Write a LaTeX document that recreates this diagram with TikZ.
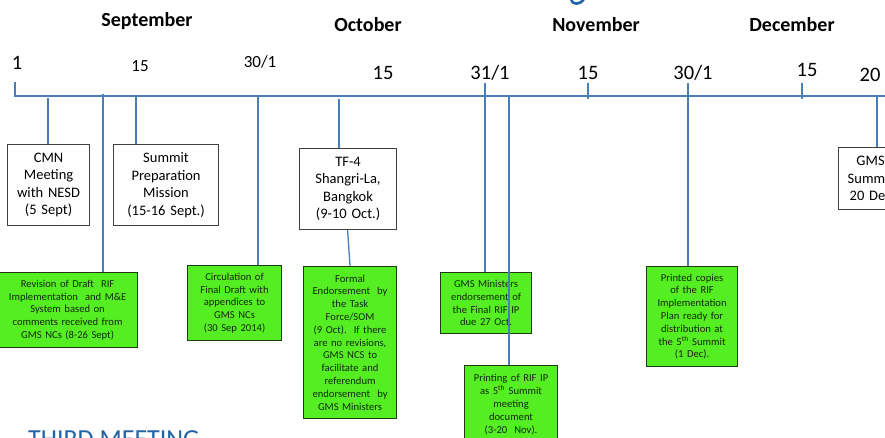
\documentclass[tikz,border=0pt]{standalone}
\usepackage{fontspec}
\setmainfont{Carlito}
\definecolor{lineblue}{HTML}{4A7EBB}
\definecolor{ggreen}{HTML}{55EE22}
\definecolor{gborder}{HTML}{1E3A12}
\definecolor{gtext}{HTML}{142808}
\definecolor{titleblue}{HTML}{1F63A8}
\begin{document}
\begin{tikzpicture}[x=1pt,y=-1pt,
  conn/.style={draw=lineblue, line width=1.3pt},
  wbox/.style={draw=black!75, line width=1.1pt, fill=white, inner sep=0pt, align=center,
    font=\fontsize{14.5}{17.5}\selectfont, anchor=north west},
  gbox/.style={draw=gborder, line width=1.1pt, fill=ggreen, inner sep=0pt, align=center,
    text=gtext, font=\fontsize{10.6}{12.8}\selectfont, anchor=north west},
  month/.style={font=\bfseries\fontsize{20}{24}\selectfont, anchor=base, inner sep=0pt},
  daylab/.style={font=\fontsize{20.5}{24}\selectfont, anchor=base, inner sep=0pt},
  daysmall/.style={font=\fontsize{17}{20}\selectfont, anchor=base, inner sep=0pt}]
\useasboundingbox (0,0) rectangle (885,438);
\clip (0,0) rectangle (885,438);
\fill[white] (0,0) rectangle (885,438);

% fragment of cut-off title
\draw[titleblue, line width=2.6pt] (571,0) .. controls (573,5) and (580,5) .. (584,-1);

% months
\node[month] (sep) at (147,27) {September};
\node[month] (oct) at (368,32) {October};
\node[month] (nov) at (596,32) {November};
\node[month] (dec) at (792,32) {December};

% day labels
\node[daylab] (d1) at (17,70) {1};
\node[daysmall] (d15s) at (140,72) {15};
\node[daysmall] (d30s) at (260,68) {30/1};
\node[daylab] (d15o) at (383,80) {15};
\node[daylab] (d31o) at (490,80) {31/1};
\node[daylab] (d15n) at (588,80) {15};
\node[daylab] (d30n) at (693,80) {30/1};
\node[daylab] (d15d) at (807,77) {15};
\node[daylab] (d20d) at (870,82) {20};

% timeline coordinates
\coordinate (tl0) at (15,96);
\coordinate (tlend) at (890,96);
\coordinate (tl0top) at (15,82);
\coordinate (k48) at (48,98);
\coordinate (k103) at (103,94);
\coordinate (k136) at (136,96);
\coordinate (k258) at (258,96);
\coordinate (k339) at (339,99);
\coordinate (k485) at (485,83);
\coordinate (k509) at (509,97);
\coordinate (k588a) at (588,83);
\coordinate (k588b) at (588,99);
\coordinate (k688) at (688,83);
\coordinate (k802a) at (802,83);
\coordinate (k802b) at (802,99);
\coordinate (k877) at (877,96);

% white boxes
\node[wbox, minimum width=82pt, minimum height=81pt, text width=80pt] (cmn) at (7,144)
  {CMN\\Meeting\\with NESD\\(5 Sept)};
\node[wbox, minimum width=105pt, minimum height=81pt, text width=103pt] (summit) at (113,144)
  {Summit\\Preparation\\Mission\\(15-16 Sept.)};
\node[wbox, minimum width=97pt, minimum height=81pt, text width=95pt] (tf) at (299,148)
  {TF-4\\Shangri-La,\\Bangkok\\(9-10 Oct.)};
\node[wbox, minimum width=64pt, minimum height=62pt, text width=62pt] (gmss) at (838,147)
  {GMS\\Summit\\20 Dec};

% green boxes
\node[gbox, minimum width=140pt, minimum height=75pt, text width=138pt] (rev) at (-3,272)
  {Revision of Draft\ \ RIF\\Implementation\ \ and M\&E\\System based on\\comments received from\\GMS NCs (8-26 Sept)};
\node[gbox, minimum width=94pt, minimum height=75pt, text width=92pt] (circ) at (187,265)
  {Circulation of\\Final Draft with\\appendices to\\GMS NCs\\(30 Sep 2014)};
\node[gbox, minimum width=93pt, minimum height=152pt, text width=91pt] (formal) at (303,266)
  {Formal\\Endorsement\ \ by\\the Task\\Force/SOM\\(9 Oct).\ \ If there\\are no revisions,\\GMS NCS to\\facilitate and\\referendum\\endorsement\ \ by\\GMS Ministers};
\node[gbox, minimum width=91pt, minimum height=61pt, text width=89pt] (gmsm) at (440,272)
  {GMS Ministers\\endorsement of\\the Final RIF IP\\due 27 Oct.};
\node[gbox, minimum width=93pt, minimum height=78pt, text width=91pt] (print) at (464,365)
  {Printing of RIF IP\\as 5\textsuperscript{th} Summit\\meeting\\document\\(3-20\ \ Nov).};
\node[gbox, minimum width=91pt, minimum height=100pt, text width=89pt] (copies) at (646,266)
  {Printed copies\\of the RIF\\Implementation\\Plan ready for\\distribution at\\the 5\textsuperscript{th} Summit\\(1 Dec).};

% timeline
\draw[conn] (tl0top) -- (tl0) -- (tlend);
\draw[conn] (k588a) -- (k588b);
\draw[conn] (k802a) -- (k802b);

% connectors
\draw[conn] (k48) -- (k48 |- cmn.north);
\draw[conn] (k103) -- (k103 |- rev.north);
\draw[conn] (k136) -- (k136 |- summit.north);
\draw[conn] (k258) -- (k258 |- circ.north);
\draw[conn] (k339) -- (k339 |- tf.north);
\draw[conn] ([xshift=-0.5pt]tf.south) -- (formal.north);
\draw[conn] (k485) -- (k485 |- gmsm.north);
\draw[conn] (k509) -- (k509 |- print.north);
\draw[conn, line width=2pt] (k688) -- (k688 |- copies.north);
\draw[conn] (k877) -- (k877 |- gmss.north);

% cut-off heading at the bottom
\node[font=\fontsize{26}{30}\selectfont, text=titleblue, anchor=base west, inner sep=0pt] (third) at (28,447) {THIRD MEETING};
\end{tikzpicture}
\end{document}
